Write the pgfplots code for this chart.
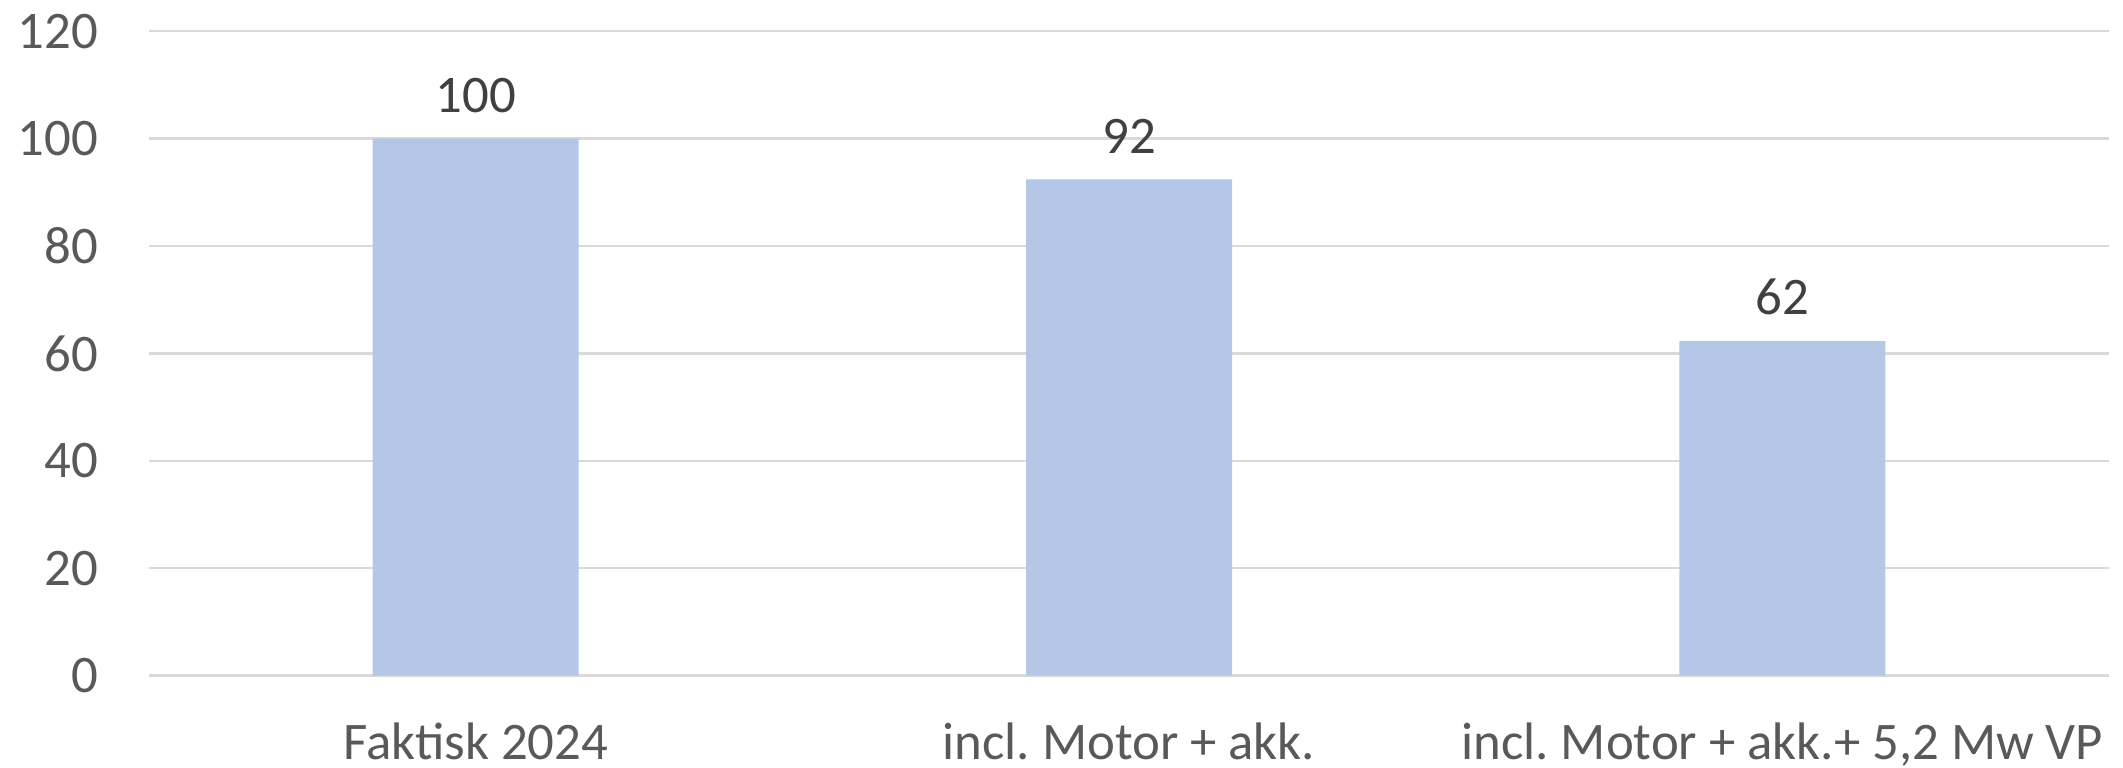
\documentclass[border=0pt]{standalone}
\usepackage{pgfplots}
\pgfplotsset{compat=1.18}
\usepackage{fontspec}
\setmainfont{Carlito}
\frenchspacing
\definecolor{barc}{HTML}{B4C7E7}
\definecolor{gridc}{HTML}{D9D9D9}
\definecolor{tickc}{HTML}{595959}
\definecolor{labc}{HTML}{404040}
\begin{document}
\begin{tikzpicture}
\path[use as bounding box] (0,0) rectangle (530.75pt,192pt);
\begin{axis}[
  anchor=south west, at={(37.25pt,23.1pt)},
  width=490pt, height=161.1pt, scale only axis,
  xmin=-0.5, xmax=2.5, ymin=0, ymax=120,
  ytick={0,20,...,120},
  xtick={0,1,2},
  xticklabels={Faktisk 2024, incl.\ Motor + akk., incl.\ Motor + akk.+ 5{,}2 Mw VP},
  axis line style={draw=none},
  major tick length=0pt,
  ymajorgrids, grid style={gridc, line width=0.6pt},
  /pgf/number format/assume math mode=true,
  yticklabel style={font=\fontsize{13.2}{15}\selectfont, text=tickc, anchor=east, inner sep=0pt, xshift=-12.5pt},
  xticklabel style={font=\fontsize{13.2}{15}\selectfont, text=tickc, anchor=base, inner sep=0pt, yshift=-21pt},
  ybar, bar width=51.5pt,
  nodes near coords,
  nodes near coords style={font=\fontsize{13.2}{15}\selectfont, text=labc, anchor=south, inner sep=0pt, yshift=6.25pt, /pgf/number format/fixed, /pgf/number format/precision=0},
  clip=false,
]
\addplot[fill=barc, draw=none] coordinates {(0,100) (1,92.4) (2,62.3)};
\end{axis}
\end{tikzpicture}
\end{document}
